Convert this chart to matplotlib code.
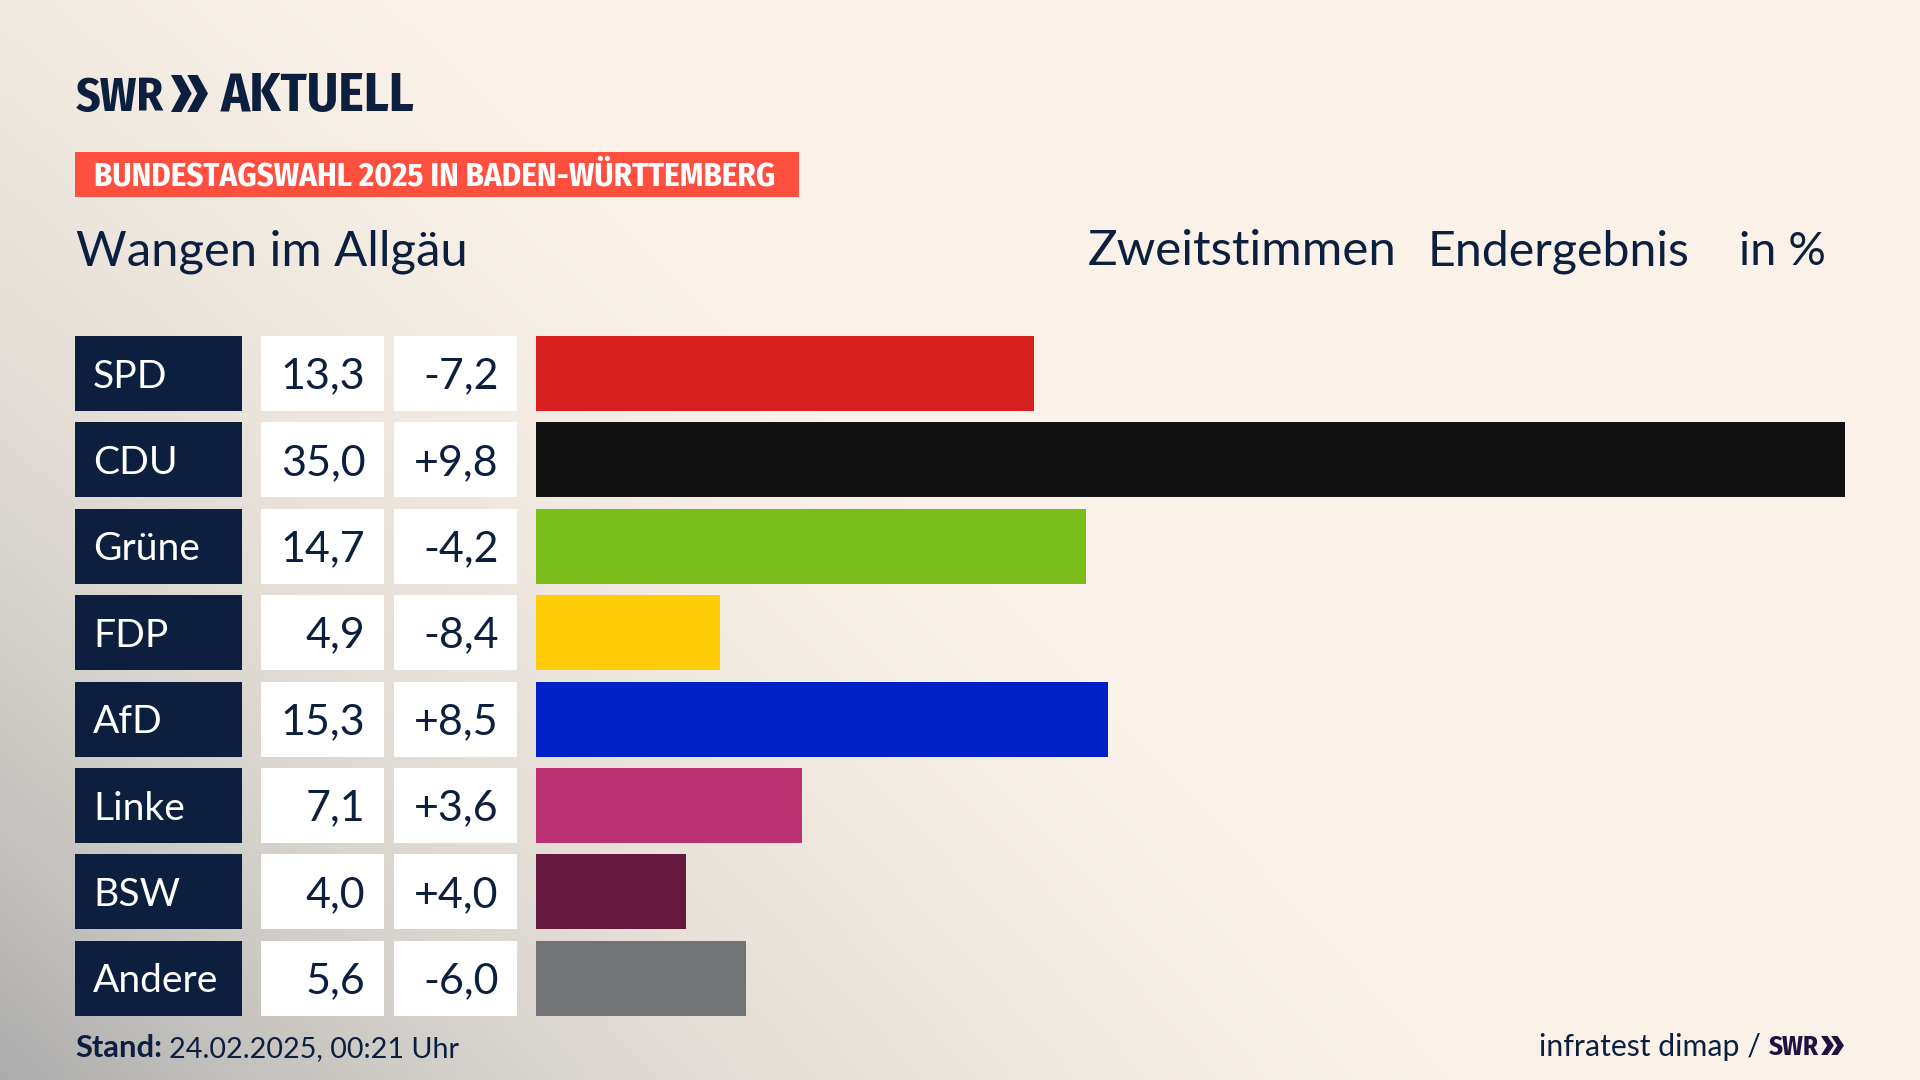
import numpy as np
import matplotlib
matplotlib.use("Agg")
import matplotlib.pyplot as plt
from matplotlib.patches import Rectangle, Polygon

parties = ["SPD", "CDU", "Grüne", "FDP", "AfD", "Linke", "BSW", "Andere"]
shares = [13.3, 35.0, 14.7, 4.9, 15.3, 7.1, 4.0, 5.6]
changes = [-7.2, 9.8, -4.2, -8.4, 8.5, 3.6, 4.0, -6.0]
colors = ["#D61F1F", "#121212", "#7ABD1A", "#FFCC07", "#0020C8", "#BB3274", "#67183F", "#727374"]

NAVY = "#0C1F3F"
FONT = ["Lato", "DejaVu Sans"]
NARROW = ["Fira Sans Condensed", "Saira Condensed", "Lato", "DejaVu Sans"]
W, H = 1920, 1080
px = 0.72

fig = plt.figure(figsize=(19.2, 10.8), dpi=100)
ov = fig.add_axes([0, 0, 1, 1])
ov.set_xlim(0, W); ov.set_ylim(H, 0); ov.axis("off")

# background: cream with a soft grey glow from the lower left corner
yy, xx = np.mgrid[0:H:270j, 0:W:480j]
p = 1.05
d = ((xx / 900) ** p + ((H - yy) / 880) ** p) ** (1 / p)
a = np.clip((np.exp(-d) - 0.2) / 0.8, 0, 1)
cream = np.array([250, 242, 232]) / 255
grey = np.array([172, 172, 172]) / 255
img = cream[None, None, :] * (1 - a[..., None]) + grey[None, None, :] * a[..., None]
ov.imshow(img, extent=[0, W, H, 0], aspect="auto", zorder=0)
ov.set_xlim(0, W); ov.set_ylim(H, 0)

renderer = fig.canvas.get_renderer()

def T(x, y, s, size, color=NAVY, weight="normal", ha="left", va="baseline", family=FONT, width=None):
    t = ov.text(x, y, s, fontsize=size * px, color=color, fontweight=weight,
                ha=ha, va=va, family=family, zorder=5)
    if width is not None:
        w = t.get_window_extent(renderer).width
        t.set_fontsize(size * px * width / w)
    return t

def chevrons(x0, x1, y0, y1, color):
    w = (x1 - x0)
    ym = (y0 + y1) / 2
    cw = 0.56 * w
    for xs in (x0, x1 - cw):
        ov.add_patch(Polygon([(xs, y0), (xs + 0.5 * cw, y0), (xs + cw, ym),
                              (xs + 0.5 * cw, y1), (xs, y1), (xs + 0.48 * cw, ym)],
                             closed=True, fc=color, ec="none", zorder=5))

# logo
T(76, 111, "SWR", 50, weight="bold", family=NARROW, width=88)
chevrons(171, 208, 75, 112, NAVY)
T(221, 111, "AKTUELL", 50, weight="bold", family=NARROW, width=194)

# banner
ov.add_patch(Rectangle((75, 152), 724, 45, fc="#FF4F3E", ec="none", zorder=2))
T(94, 185, "BUNDESTAGSWAHL 2025 IN BADEN-WÜRTTEMBERG", 30, color="white", weight="bold", family=NARROW, width=682)

# headline
T(76, 265, "Wangen im Allgäu", 48, width=392)
T(1088, 265, "Zweitstimmen", 48, width=309)
T(1428, 265, "Endergebnis", 48, width=262)
T(1739, 265, "in %", 48, width=87)

# rows
pitch = 86.4
top = 336
hbar = 75
ax = fig.add_axes([536.3 / W, 1 - (top - (pitch - hbar) / 2 + 8 * pitch) / H, (1845 - 536.3) / W, 8 * pitch / H])
ax.patch.set_alpha(0)
ax.barh(range(8), shares, height=hbar / pitch, color=colors, zorder=3)
ax.set_xlim(0, 35); ax.set_ylim(7.5, -0.5); ax.axis("off")

for i, (party, s, c) in enumerate(zip(parties, shares, changes)):
    y = top + i * pitch
    ym = y + hbar / 2
    ov.add_patch(Rectangle((75, y), 167, hbar, fc=NAVY, ec="none", zorder=2))
    ov.add_patch(Rectangle((261, y), 123, hbar, fc="white", ec="none", zorder=2))
    ov.add_patch(Rectangle((394, y), 123, hbar, fc="white", ec="none", zorder=2))
    T(93, ym + 14, party, 39, color="white")
    T(365.5, ym + 15, f"{s:.1f}".replace(".", ","), 43, ha="right")
    T(498.5, ym + 15, f"{c:+.1f}".replace(".", ","), 43, ha="right")

# footer
T(75, 1057, "Stand:", 30, weight="bold", width=87)
T(169, 1057, "24.02.2025, 00:21 Uhr", 29, width=289)
T(1539, 1056, "infratest dimap /", 31, width=221)
T(1769, 1055, "SWR", 27, color="#1E1240", weight="bold", family=NARROW, width=50)
chevrons(1821, 1844, 1036, 1055, "#1E1240")

fig.savefig("out.png", dpi=100)
